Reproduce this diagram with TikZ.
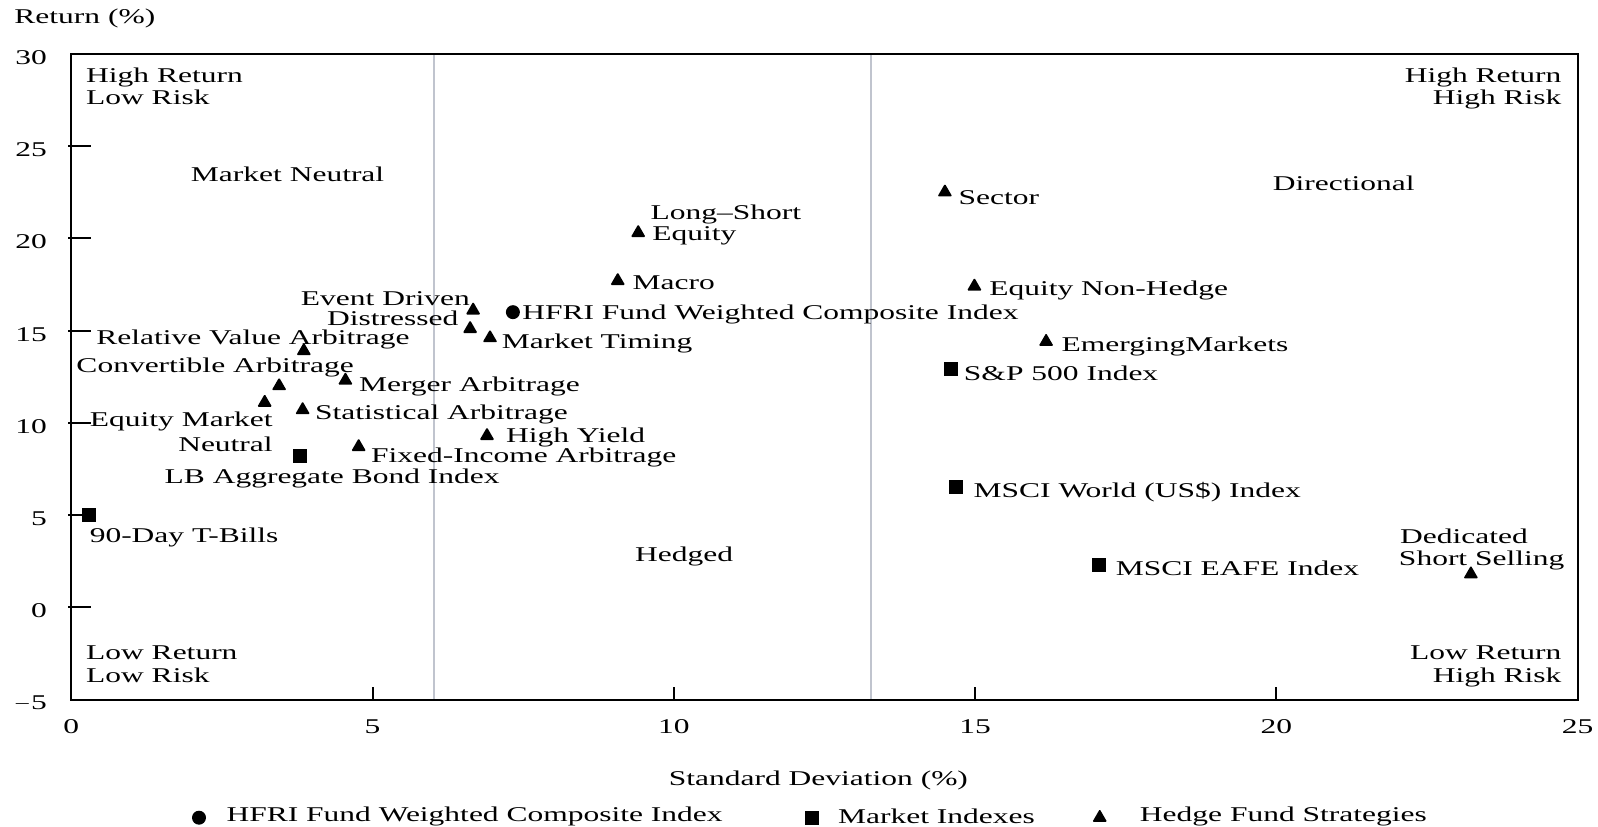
\documentclass[tikz,border=0pt]{standalone}
\usepackage{fontspec}
\setmainfont[FakeStretch=1.5]{Liberation Serif}
\usepackage{tikz}
\usetikzlibrary{positioning,shapes.geometric}

\definecolor{zonegrey}{RGB}{192,196,206}
\newcommand{\lblfont}{\fontsize{10.5}{11.3}\selectfont}

\tikzset{
  lbl/.style={inner sep=0pt, font=\lblfont},
  ptlbl/.style={lbl, yshift=-1.4pt},
  sqmark/.style={rectangle, fill=black, minimum size=7pt, inner sep=0pt},
  dotmark/.style={circle, fill=black, minimum size=7pt, inner sep=0pt},
  trimark/.style={regular polygon, regular polygon sides=3, fill=black, rounded corners=0.6pt, minimum size=8.5pt, inner sep=0pt},
  frameline/.style={line width=1pt},
  zoneline/.style={zonegrey, line width=1pt}
}

\begin{document}
\begin{tikzpicture}[x=30.125pt,y=9.225pt]
\useasboundingbox (-1.183,-11.90) rectangle (25.34,32.92);

%Zone lines
\draw[zoneline] (6.02,-5) -- (6.02,30);
\draw[zoneline] (13.28,-5) -- (13.28,30);

%Frame and ticks
\draw[frameline] (0,-5) rectangle (25,30);
\foreach \v in {0,5,...,25}
  \draw[frameline] (-0.05,\v) -- (0.33,\v);
\foreach \v in {5,10,15,20}
  \draw[frameline] (\v,-5) -- (\v,-4.3);

% Tick labels
\foreach \v in {-5,0,5,...,30}
  \node[lbl, anchor=east] (ytick\v) at (-0.40,\v-0.2) {\ifnum\v<0 $-$5\else\v\fi};
\foreach \v in {0,5,...,25}
  \node[lbl] (xtick\v) at (\v,-6.45) {\v};

% Axis titles
\node[lbl, anchor=west] (ytitle) at (-0.95,31.93) {Return (\%)};
\node[ptlbl] (xtitle) at (12.40,-9.23) {Standard Deviation (\%)};

% Corner texts
\node[lbl, anchor=north west, align=left] (hrlr) at (0.24,29.27) {High Return\\Low Risk};
\node[lbl, anchor=north east, align=right] (hrhr) at (24.74,29.27) {High Return\\High Risk};
\node[lbl, anchor=north west, align=left] (lrlr) at (0.24,-2.06) {Low Return\\Low Risk};
\node[lbl, anchor=north east, align=right] (lrhr) at (24.74,-2.06) {Low Return\\High Risk};

% Zone titles
\node[ptlbl] (neutral) at (3.59,23.65) {Market Neutral};
\node[ptlbl] (directional) at (21.12,23.15) {Directional};
\node[ptlbl] (hedged) at (10.17,2.93) {Hedged};

% Market indexes
\node[sqmark] (tbill) at (0.30,5.0) {};
\node[sqmark] (lbagg) at (3.79,8.23) {};
\node[sqmark] (spx) at (14.6,12.9) {};
\node[sqmark] (msciw) at (14.69,6.5) {};
\node[sqmark] (eafe) at (17.06,2.3) {};

% Composite index
\node[dotmark] (hfri) at (7.33,16.0) {};

% Hedge fund strategies
\node[trimark] (sector) at (14.5,22.5) {};
\node[trimark] (lsequity) at (9.41,20.3) {};
\node[trimark] (macro) at (9.07,17.7) {};
\node[trimark] (nonhedge) at (14.99,17.4) {};
\node[trimark] (event) at (6.67,16.1) {};
\node[trimark] (distressed) at (6.62,15.1) {};
\node[trimark] (timing) at (6.95,14.6) {};
\node[trimark] (relvalue) at (3.86,13.9) {};
\node[trimark] (emerging) at (16.18,14.4) {};
\node[trimark] (convert) at (3.45,12.0) {};
\node[trimark] (merger) at (4.55,12.3) {};
\node[trimark] (eqneutral) at (3.21,11.1) {};
\node[trimark] (statarb) at (3.84,10.7) {};
\node[trimark] (highyield) at (6.9,9.3) {};
\node[trimark] (fixedinc) at (4.77,8.7) {};
\node[trimark] (shortsell) at (23.23,1.8) {};

% Point labels
\node[ptlbl, anchor=west] (tbill-l) at (0.30,3.92) {90-Day T-Bills};
\node[ptlbl] (lbagg-l) at (4.33,7.13) {LB Aggregate Bond Index};
\node[ptlbl, anchor=west] (spx-l) at (14.81,12.82) {S\&P 500 Index};
\node[ptlbl, anchor=west] (msciw-l) at (14.97,6.41) {MSCI World (US\$) Index};
\node[ptlbl, anchor=west] (eafe-l) at (17.33,2.27) {MSCI EAFE Index};
\node[ptlbl, anchor=west] (hfri-l) at (7.48,16.02) {HFRI Fund Weighted Composite Index};
\node[ptlbl, anchor=west] (sector-l) at (14.72,22.38) {Sector};
\node[ptlbl, anchor=west] (lsequity-l) at (9.61,21.44) {Long--Short};
\node[ptlbl, anchor=west] (lsequity-l2) at (9.64,20.28) {Equity};
\node[ptlbl, anchor=west] (macro-l) at (9.31,17.73) {Macro};
\node[ptlbl, anchor=west] (nonhedge-l) at (15.23,17.35) {Equity Non-Hedge};
\node[ptlbl, anchor=east] (event-l) at (6.62,16.90) {Event Driven};
\node[ptlbl, anchor=east] (distressed-l) at (6.43,15.80) {Distressed};
\node[ptlbl, anchor=west] (timing-l) at (7.14,14.48) {Market Timing};
\node[ptlbl, anchor=west] (relvalue-l) at (0.41,14.68) {Relative Value Arbitrage};
\node[ptlbl, anchor=west] (emerging-l) at (16.43,14.31) {EmergingMarkets};
\node[ptlbl, anchor=west] (convert-l) at (0.08,13.15) {Convertible Arbitrage};
\node[ptlbl, anchor=west] (merger-l) at (4.77,12.15) {Merger Arbitrage};
\node[ptlbl, anchor=west] (statarb-l) at (4.04,10.61) {Statistical Arbitrage};
\node[ptlbl, anchor=east] (eqneutral-l) at (3.35,10.22) {Equity Market};
\node[ptlbl, anchor=east] (eqneutral-l2) at (3.35,9.0) {Neutral};
\node[ptlbl, anchor=west] (highyield-l) at (7.21,9.34) {High Yield};
\node[ptlbl, anchor=west] (fixedinc-l) at (4.97,8.29) {Fixed-Income Arbitrage};
\node[ptlbl, anchor=west] (shortsell-l) at (22.05,3.98) {Dedicated};
\node[ptlbl, anchor=west] (shortsell-l2) at (22.03,2.71) {Short Selling};

% Legend
\node[dotmark] (key-dot) at (2.12,-11.40) {};
\node[ptlbl, anchor=west] (key-dot-l) at (2.57,-11.20) {HFRI Fund Weighted Composite Index};
\node[sqmark] (key-sq) at (12.30,-11.40) {};
\node[ptlbl, anchor=west] (key-sq-l) at (12.72,-11.20) {Market Indexes};
\node[trimark] (key-tri) at (17.07,-11.40) {};
\node[ptlbl, anchor=west] (key-tri-l) at (17.73,-11.20) {Hedge Fund Strategies};

\end{tikzpicture}
\end{document}
